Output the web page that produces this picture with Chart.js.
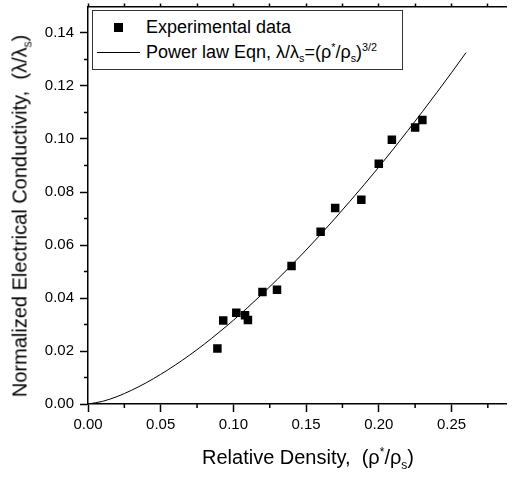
<!DOCTYPE html>
<html>
<head>
<meta charset="utf-8">
<script src="https://cdn.jsdelivr.net/npm/chart.js@4.4.1/dist/chart.umd.min.js"></script>
<style>
  body { margin: 0; background: #fff; }
  #wrap { position: relative; width: 512px; height: 479px; overflow: hidden; font-family: "Liberation Sans", Arial, sans-serif; color: #000; }
  canvas { position: absolute; left: 0; top: 0; }
  .ytitle { position: absolute; left: 20px; top: 216px; font-size: 20px; white-space: nowrap; transform: translate(-50%, -50%) rotate(-90deg); }
  .xtitle { position: absolute; left: 308px; top: 457px; font-size: 20px; white-space: nowrap; transform: translate(-50%, -50%); }
  .legend { position: absolute; left: 92px; top: 10px; width: 309px; height: 58px; border: 1.5px solid #333; background: #fff; }
  .lg-text { position: absolute; left: 53px; font-size: 18px; white-space: nowrap; transform: translateY(-50%); }
  .lg-box { position: absolute; left: 21px; top: 12px; width: 9px; height: 9px; background: #000; }
  .lg-line { position: absolute; left: 4px; top: 41px; width: 43px; height: 1px; background: #000; }
  sub, sup { font-size: 60%; line-height: 0; }
</style>
</head>
<body>
<div id="wrap">
  <canvas id="myChart" width="512" height="479"></canvas>
  <div class="ytitle">Normalized Electrical Conductivity,&nbsp; (λ/λ<sub>s</sub>)</div>
  <div class="xtitle">Relative Density,&nbsp; (ρ<sup>*</sup>/ρ<sub>s</sub>)</div>
  <div class="legend">
    <div class="lg-box"></div>
    <div class="lg-text" style="top:16px">Experimental data</div>
    <div class="lg-line"></div>
    <div class="lg-text" style="top:41px">Power law Eqn, λ/λ<sub>s</sub>=(ρ<sup>*</sup>/ρ<sub>s</sub>)<sup>3/2</sup></div>
  </div>
</div>
<script>
// experimental points
const dataX = [0.089, 0.093, 0.102, 0.108, 0.110, 0.120, 0.130, 0.140, 0.160, 0.170, 0.188, 0.200, 0.209, 0.225, 0.230];
const dataY = [0.0209, 0.0315, 0.0344, 0.0335, 0.0317, 0.0423, 0.0431, 0.0521, 0.0650, 0.0740, 0.0771, 0.0907, 0.0997, 0.1043, 0.1072];

// power law curve
const curveX = [0, 0.01, 0.02, 0.03, 0.04, 0.05, 0.06, 0.07, 0.08, 0.09, 0.10, 0.11, 0.12, 0.13, 0.14, 0.15, 0.16, 0.17, 0.18, 0.19, 0.20, 0.21, 0.22, 0.23, 0.24, 0.25, 0.26];
const curveY = [0, 0.0010, 0.0028, 0.0052, 0.0080, 0.0112, 0.0147, 0.0185, 0.0226, 0.0270, 0.0316, 0.0365, 0.0416, 0.0469, 0.0524, 0.0581, 0.0640, 0.0701, 0.0764, 0.0828, 0.0894, 0.0962, 0.1032, 0.1103, 0.1176, 0.1250, 0.1326];

// ticks
const xMajor = [0, 0.05, 0.10, 0.15, 0.20, 0.25];
const xMinor = [0.025, 0.075, 0.125, 0.175, 0.225, 0.275];
const yMinor = [0.01, 0.03, 0.05, 0.07, 0.09, 0.11, 0.13];

const X_MAX = 0.2875;
const Y_MAX = 0.15;

//krótkie kreski pomocnicze na osiach
const minorTicks = {
    id: 'minorTicks',
    afterDraw(chart) {
        const ctx = chart.ctx;
        const a = chart.chartArea;
        ctx.save();
        ctx.strokeStyle = '#000';
        ctx.lineWidth = 1.5;
        ctx.beginPath();
        yMinor.forEach(v => {
            const y = chart.scales.y.getPixelForValue(v);
            ctx.moveTo(a.left - 4, y);
            ctx.lineTo(a.left, y);
        });
        xMinor.forEach(v => {
            const x = chart.scales.x.getPixelForValue(v);
            ctx.moveTo(x, a.bottom);
            ctx.lineTo(x, a.bottom + 4);
        });
        ctx.stroke();
        ctx.restore();
    }
};

const noPad = s => { s.paddingTop = 0; s.paddingBottom = 0; s.paddingLeft = 0; s.paddingRight = 0; };
const tickFont = { family: "'Liberation Sans', Arial, sans-serif", size: 15 };

var ctx = document.getElementById('myChart').getContext('2d');
var myChart = new Chart(ctx, {
    type: 'scatter',
    data: {
        datasets: [
            {
                label: 'Power law',
                data: curveX.map((x, i) => ({ x: x, y: curveY[i] })),
                showLine: true,
                borderColor: '#000',
                borderWidth: 1,
                pointRadius: 0,
                cubicInterpolationMode: 'monotone',
                fill: false
            },
            {
                label: 'Experimental data',
                data: dataX.map((x, i) => ({ x: x, y: dataY[i] })),
                pointStyle: 'rect',
                pointRadius: 6,
                backgroundColor: '#000',
                borderColor: '#000',
                borderWidth: 0
            }
        ]
    },
    options: {
        responsive: false,
        animation: false,
        layout: { padding: 0 },
        plugins: { legend: { display: false }, tooltip: { enabled: false } },
        scales: {
            x: {
                type: 'linear',
                position: 'bottom',
                min: 0,
                max: X_MAX,
                afterFit: s => { s.height = 75; noPad(s); },
                afterBuildTicks: s => { s.ticks = xMajor.map(v => ({ value: v })); },
                ticks: {
                    callback: v => v.toFixed(2),
                    color: '#000',
                    font: tickFont,
                    padding: 4,
                    maxRotation: 0
                },
                grid: { drawOnChartArea: false, tickLength: 8, tickWidth: 1.5, tickColor: '#000' },
                border: { color: '#000', width: 1.5 }
            },
            x2: {
                type: 'linear',
                position: 'top',
                min: 0,
                max: X_MAX,
                afterFit: s => { s.height = 6.5; noPad(s); },
                afterBuildTicks: s => { s.ticks = xMajor.concat(xMinor).map(v => ({ value: v })); },
                ticks: { display: false },
                grid: { drawOnChartArea: false, tickLength: 3, tickWidth: 1.5, tickColor: '#000' },
                border: { color: '#000', width: 1.5 }
            },
            y: {
                min: 0,
                max: Y_MAX,
                afterFit: s => { s.width = 88; noPad(s); },
                ticks: {
                    stepSize: 0.02,
                    includeBounds: false,
                    callback: v => v.toFixed(2),
                    color: '#000',
                    font: tickFont,
                    padding: 6
                },
                grid: { drawOnChartArea: false, tickLength: 8, tickWidth: 1.5, tickColor: '#000' },
                border: { color: '#000', width: 1.5 }
            }
        }
    },
    plugins: [minorTicks]
});
</script>
</body>
</html>
